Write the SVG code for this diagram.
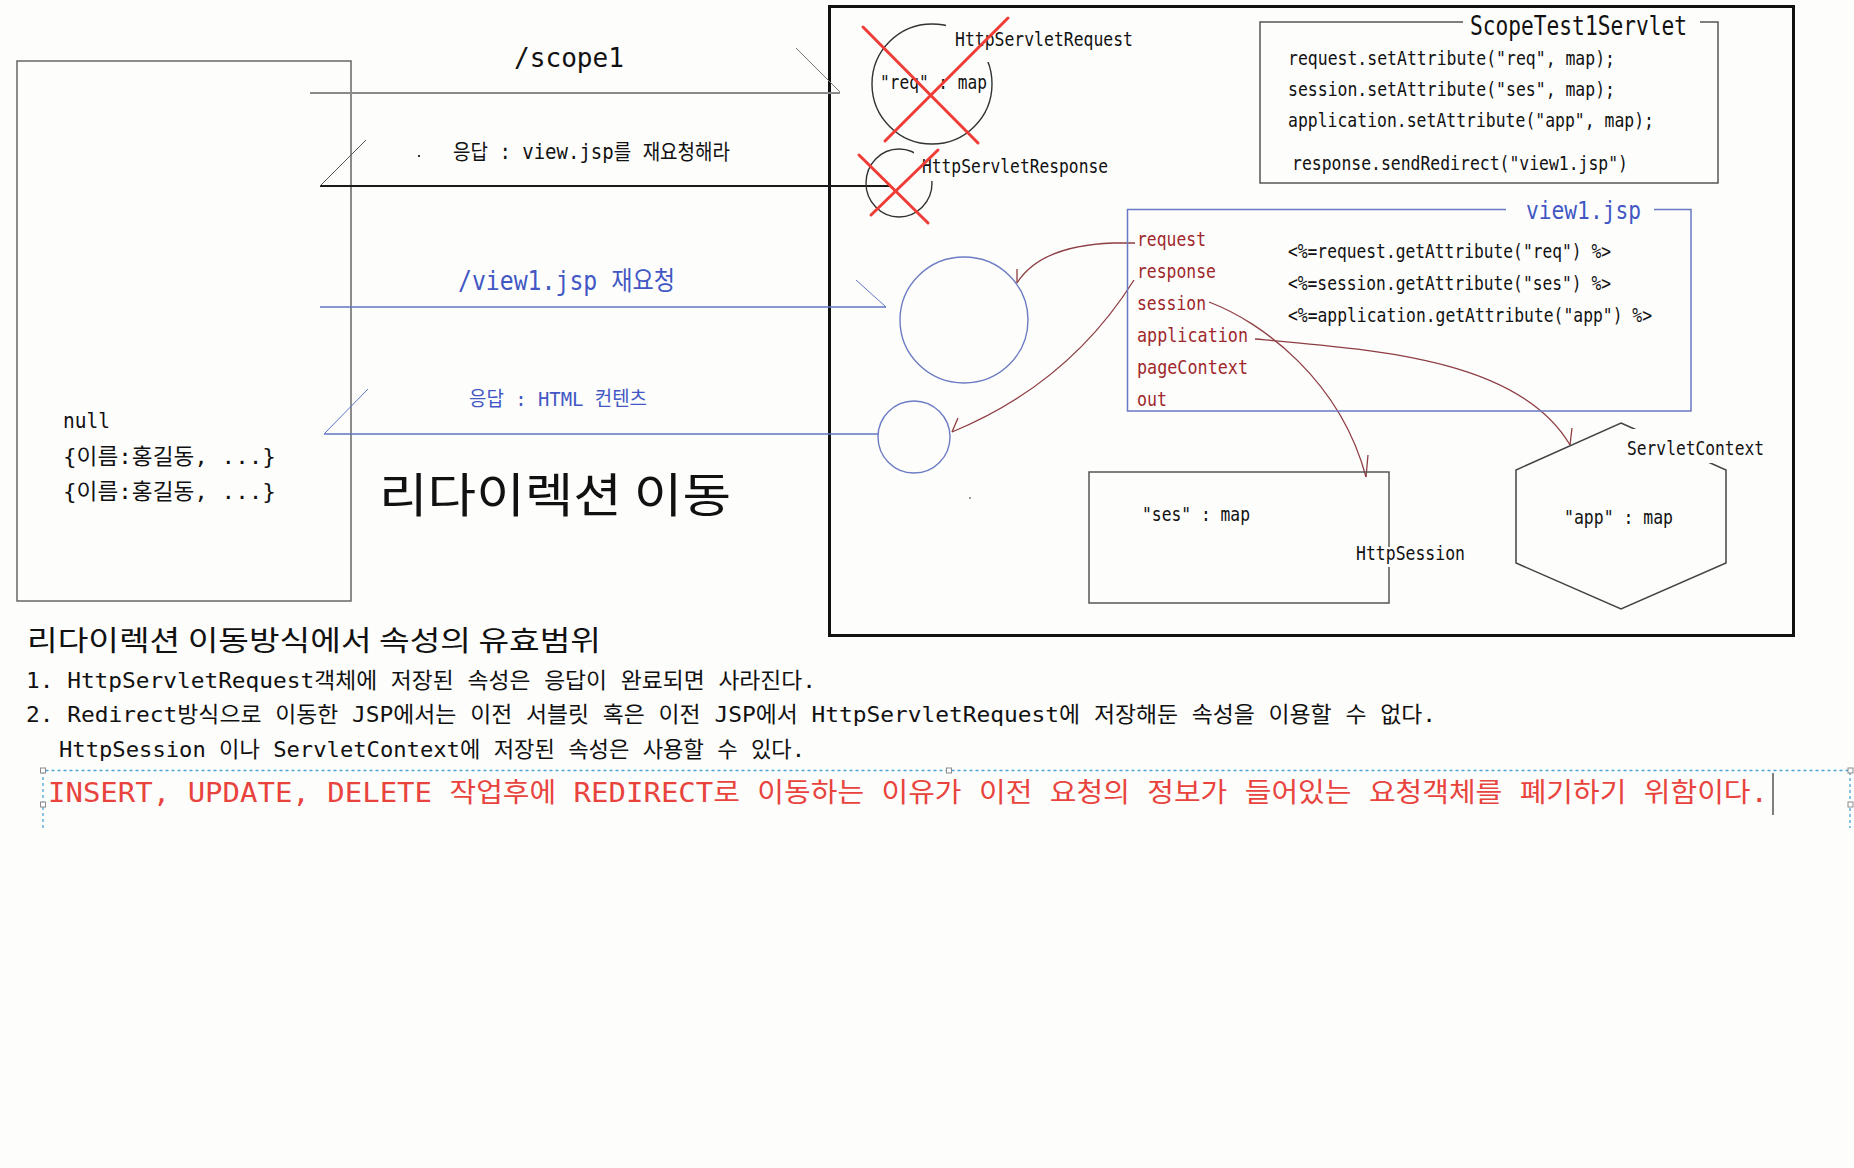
<svg xmlns="http://www.w3.org/2000/svg" width="1854" height="1168" viewBox="0 0 1854 1168">
<style>
.bg{fill:#fdfdfc}
.mono{font-family:'DejaVu Sans Mono','Noto Sans CJK KR',monospace;fill:#111}
.kr{font-family:'Noto Sans CJK KR','Noto Sans',sans-serif;fill:#111}
.blue{fill:#4257c4}
.red{fill:#e8433d}
.lbl{fill:#a0282c}
.obj{fill:none;stroke:#333;stroke-width:1.4}
.bcirc{fill:none;stroke:#6c7cc4;stroke-width:1.4}
.cross{stroke:#f03c36;stroke-width:3;stroke-linecap:round}
.conn{fill:none;stroke:#8e3d42;stroke-width:1.3}
.msg-gray{fill:none;stroke:#8a8a8a;stroke-width:2}
.msg-black{fill:none;stroke:#1a1a1a;stroke-width:2}
.msg-blue{fill:none;stroke:#6274c2;stroke-width:1.6}
.barb{fill:none;stroke-width:1}
.wbg{fill:#fdfdfc}
.sel{fill:none;stroke:#4ba3d6;stroke-width:1.3;stroke-dasharray:3 3}
.handle{fill:#fff;stroke:#8a8a8a;stroke-width:1}
</style>
<rect class="bg" x="0" y="0" width="1854" height="1168"/>

<!-- client box -->
<g id="client">
  <rect x="17" y="61" width="334" height="540" fill="none" stroke="#666" stroke-width="1.5"/>
  <text class="mono" x="63" y="428" font-size="22" textLength="47" lengthAdjust="spacingAndGlyphs">null</text>
  <text class="mono" x="63" y="464" font-size="22" textLength="213" lengthAdjust="spacingAndGlyphs">{이름:홍길동, ...}</text>
  <text class="mono" x="63" y="499" font-size="22" textLength="213" lengthAdjust="spacingAndGlyphs">{이름:홍길동, ...}</text>
</g>

<!-- server box -->
<g id="server">
  <rect x="829.5" y="6.5" width="964" height="629" fill="none" stroke="#111" stroke-width="3"/>
</g>

<!-- message connectors -->
<g id="connectors">
  <g id="msg-scope1">
    <line class="msg-gray" x1="310" y1="93" x2="840" y2="93"/>
    <line class="barb" stroke="#777" x1="796" y1="48" x2="840" y2="92"/>
  </g>
  <g id="msg-redirect-resp">
    <line class="msg-black" x1="320" y1="186" x2="890" y2="186"/>
    <line class="barb" stroke="#555" x1="366" y1="140" x2="320" y2="186"/>
  </g>
  <g id="msg-view1">
    <line class="msg-blue" x1="320" y1="307" x2="886" y2="307"/>
    <line class="barb" stroke="#6274c2" x1="856" y1="280" x2="886" y2="307"/>
  </g>
  <g id="msg-html">
    <line class="msg-blue" x1="324" y1="434" x2="878" y2="434"/>
    <line class="barb" stroke="#6274c2" x1="368" y1="389" x2="324" y2="434"/>
  </g>
  <g id="conn-request">
    <path class="conn" d="M1135,243 L1113,243 C1062,245 1032,259 1017,283"/>
    <line class="conn" x1="1017" y1="269" x2="1017" y2="283"/>
  </g>
  <g id="conn-response">
    <path class="conn" d="M1134,280 C1090,350 1030,400 952,432"/>
    <line class="conn" x1="958" y1="418" x2="952" y2="432"/>
  </g>
  <g id="conn-session">
    <path class="conn" d="M1209,302 C1262,322 1340,380 1366,477"/>
    <line class="conn" x1="1368" y1="455" x2="1366" y2="477"/>
  </g>
  <g id="conn-application">
    <path class="conn" d="M1255,339 C1380,350 1520,360 1570,445"/>
    <line class="conn" x1="1572" y1="428" x2="1570" y2="445"/>
  </g>
</g>

<!-- message labels -->
<g id="labels">
  <text class="mono" x="514" y="67" font-size="27" textLength="110" lengthAdjust="spacingAndGlyphs">/scope1</text>
  <rect x="418" y="155" width="2" height="2" fill="#333"/>
  <text class="mono" x="453" y="159" font-size="21" textLength="277" lengthAdjust="spacingAndGlyphs">응답 : view.jsp를 재요청해라</text>
  <text class="mono blue" x="458" y="290" font-size="26" textLength="217" lengthAdjust="spacingAndGlyphs">/view1.jsp 재요청</text>
  <text class="mono blue" x="469" y="406" font-size="20" textLength="178" lengthAdjust="spacingAndGlyphs">응답 : HTML 컨텐츠</text>
  <text class="kr" x="379" y="512" font-size="47" textLength="352" lengthAdjust="spacingAndGlyphs">리다이렉션 이동</text>
</g>

<!-- HttpServletRequest -->
<g id="http-request">
  <circle class="obj" cx="932" cy="84" r="60"/>
  <rect class="wbg" x="946" y="20" width="190" height="42"/>
  <text class="mono" x="955" y="46" font-size="20" textLength="178" lengthAdjust="spacingAndGlyphs">HttpServletRequest</text>
  <text class="mono" x="880" y="89" font-size="20" textLength="107" lengthAdjust="spacingAndGlyphs">"req" : map</text>
  <line class="cross" x1="863" y1="27" x2="978" y2="143"/>
  <line class="cross" x1="1008" y1="18" x2="885" y2="141"/>
</g>

<!-- HttpServletResponse -->
<g id="http-response">
  <ellipse class="obj" cx="899" cy="183" rx="33" ry="34"/>
  <rect class="wbg" x="914" y="148" width="200" height="33"/>
  <text class="mono" x="922" y="173" font-size="20" textLength="186" lengthAdjust="spacingAndGlyphs">HttpServletResponse</text>
  <line class="cross" x1="859" y1="155" x2="928" y2="223"/>
  <line class="cross" x1="938" y1="150" x2="871" y2="215"/>
</g>

<!-- ScopeTest1Servlet -->
<g id="servlet">
  <path d="M1463,22 H1260 V183 H1718 V22 H1700" fill="none" stroke="#555" stroke-width="1.5"/>
  <text class="mono" x="1470" y="35" font-size="26" textLength="217" lengthAdjust="spacingAndGlyphs">ScopeTest1Servlet</text>
  <text class="mono" x="1288" y="65" font-size="19" textLength="327" lengthAdjust="spacingAndGlyphs">request.setAttribute("req", map);</text>
  <text class="mono" x="1288" y="96" font-size="19" textLength="327" lengthAdjust="spacingAndGlyphs">session.setAttribute("ses", map);</text>
  <text class="mono" x="1288" y="127" font-size="19" textLength="366" lengthAdjust="spacingAndGlyphs">application.setAttribute("app", map);</text>
  <text class="mono" x="1292" y="170" font-size="19" textLength="336" lengthAdjust="spacingAndGlyphs">response.sendRedirect("view1.jsp")</text>
</g>

<!-- view1.jsp -->
<g id="view1">
  <path d="M1506,209.5 H1127.5 V411 H1691 V209.5 H1654" fill="none" stroke="#6a78c4" stroke-width="1.5"/>
  <text class="mono blue" x="1526" y="219" font-size="24" textLength="115" lengthAdjust="spacingAndGlyphs">view1.jsp</text>
  <text class="mono lbl" x="1137" y="246" font-size="19" textLength="69" lengthAdjust="spacingAndGlyphs">request</text>
  <text class="mono lbl" x="1137" y="278" font-size="19" textLength="79" lengthAdjust="spacingAndGlyphs">response</text>
  <text class="mono lbl" x="1137" y="310" font-size="19" textLength="69" lengthAdjust="spacingAndGlyphs">session</text>
  <text class="mono lbl" x="1137" y="342" font-size="19" textLength="111" lengthAdjust="spacingAndGlyphs">application</text>
  <text class="mono lbl" x="1137" y="374" font-size="19" textLength="111" lengthAdjust="spacingAndGlyphs">pageContext</text>
  <text class="mono lbl" x="1137" y="406" font-size="19" textLength="30" lengthAdjust="spacingAndGlyphs">out</text>
  <text class="mono" x="1288" y="258" font-size="19" textLength="323" lengthAdjust="spacingAndGlyphs">&lt;%=request.getAttribute("req") %&gt;</text>
  <text class="mono" x="1288" y="290" font-size="19" textLength="323" lengthAdjust="spacingAndGlyphs">&lt;%=session.getAttribute("ses") %&gt;</text>
  <text class="mono" x="1288" y="322" font-size="19" textLength="364" lengthAdjust="spacingAndGlyphs">&lt;%=application.getAttribute("app") %&gt;</text>
</g>

<!-- new request object / response object -->
<g id="new-request">
  <ellipse class="bcirc" cx="964" cy="320" rx="64" ry="63"/>
</g>
<g id="new-response">
  <circle class="bcirc" cx="914" cy="437" r="36"/>
</g>

<!-- HttpSession -->
<g id="http-session">
  <rect x="1089" y="472" width="300" height="131" fill="none" stroke="#555" stroke-width="1.5"/>
  <rect class="wbg" x="1354" y="547" width="114" height="20"/>
  <text class="mono" x="1142" y="521" font-size="20" textLength="108" lengthAdjust="spacingAndGlyphs">"ses" : map</text>
  <text class="mono" x="1356" y="560" font-size="20" textLength="109" lengthAdjust="spacingAndGlyphs">HttpSession</text>
  <rect x="969" y="497" width="2" height="2" fill="#999"/>
</g>

<!-- ServletContext -->
<g id="servlet-context">
  <polygon points="1621,423 1726,470 1726,563 1621,609 1516,563 1516,470" fill="none" stroke="#444" stroke-width="1.5"/>
  <rect class="wbg" x="1624" y="429" width="146" height="34"/>
  <text class="mono" x="1627" y="455" font-size="20" textLength="137" lengthAdjust="spacingAndGlyphs">ServletContext</text>
  <text class="mono" x="1564" y="524" font-size="20" textLength="109" lengthAdjust="spacingAndGlyphs">"app" : map</text>
</g>

<!-- notes -->
<g id="notes">
  <text class="kr" x="27" y="651" font-size="28" textLength="574" lengthAdjust="spacingAndGlyphs">리다이렉션 이동방식에서 속성의 유효범위</text>
  <text class="mono" x="26" y="688" font-size="22" textLength="790" lengthAdjust="spacingAndGlyphs">1. HttpServletRequest객체에 저장된 속성은 응답이 완료되면 사라진다.</text>
  <text class="mono" x="26" y="722" font-size="22" textLength="1410" lengthAdjust="spacingAndGlyphs">2. Redirect방식으로 이동한 JSP에서는 이전 서블릿 혹은 이전 JSP에서 HttpServletRequest에 저장해둔 속성을 이용할 수 없다.</text>
  <text class="mono" x="59" y="757" font-size="22" textLength="746" lengthAdjust="spacingAndGlyphs">HttpSession 이나 ServletContext에 저장된 속성은 사용할 수 있다.</text>
</g>

<!-- selected text frame -->
<g id="selected-note">
  <path class="sel" d="M43,828 V770.5 H1850 V828"/>
  <rect class="handle" x="40.5" y="768" width="5" height="5"/>
  <rect class="handle" x="40.5" y="802" width="5" height="5"/>
  <rect class="handle" x="946.5" y="768" width="5" height="5"/>
  <rect class="handle" x="1848" y="768" width="5" height="5"/>
  <rect class="handle" x="1848" y="802" width="5" height="5"/>
  <text class="mono red" x="48" y="802" font-size="27" textLength="1720" lengthAdjust="spacingAndGlyphs">INSERT, UPDATE, DELETE 작업후에 REDIRECT로 이동하는 이유가 이전 요청의 정보가 들어있는 요청객체를 폐기하기 위함이다.</text>
  <line x1="1773" y1="773" x2="1773" y2="815" stroke="#555" stroke-width="1.5"/>
</g>
</svg>
